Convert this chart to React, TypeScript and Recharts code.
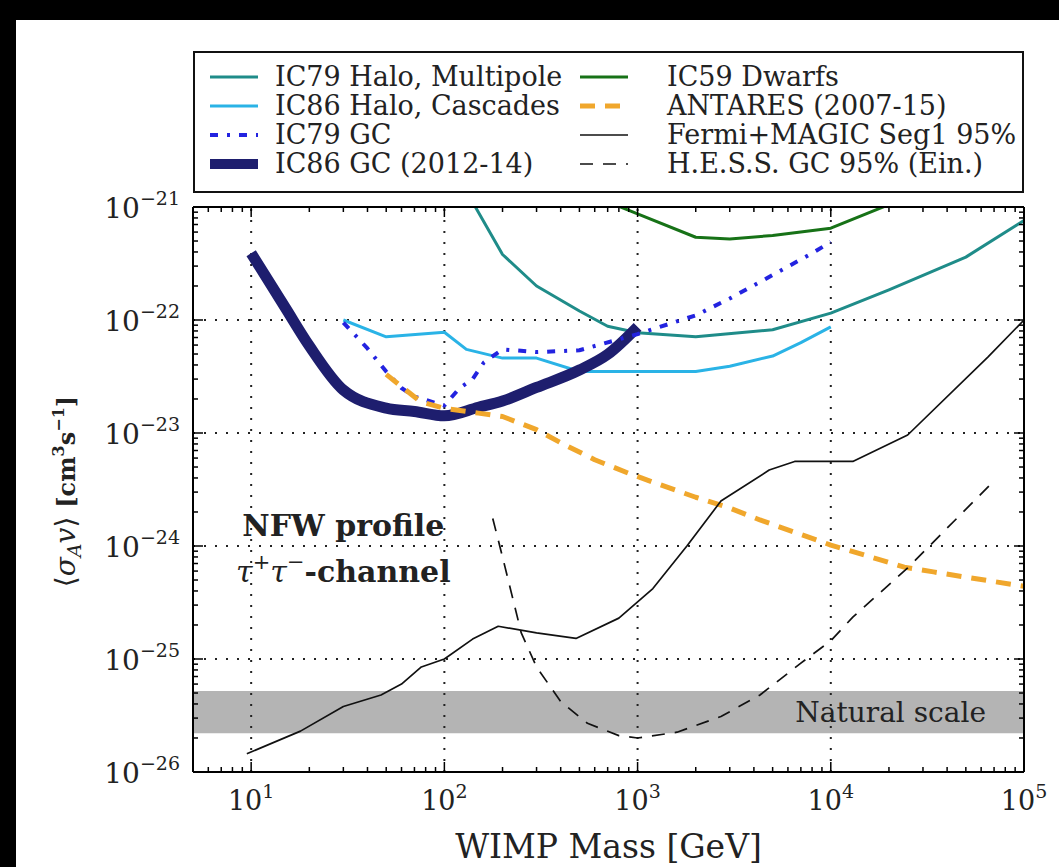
import { LineChart, Line, XAxis, YAxis, ReferenceLine, ReferenceArea, ReferenceDot } from 'recharts'

const FONT = '"DejaVu Serif", "Liberation Serif", serif'

// WIMP mass [GeV] and <sigma_A v> [cm^3 s^-1]
const ic79HaloMass = [100, 150, 200, 300, 500, 700, 1000, 2000, 5000, 10000, 20000, 50000, 100000]
const ic79HaloSigma = [3e-21, 9e-22, 3.8e-22, 2e-22, 1.2e-22, 8.8e-23, 7.7e-23, 7.1e-23, 8.2e-23, 1.15e-22, 1.85e-22, 3.6e-22, 7.6e-22]

const ic86HaloMass = [30, 50, 100, 130, 200, 300, 500, 1000, 2000, 3000, 5000, 7000, 10000]
const ic86HaloSigma = [1e-22, 7.1e-23, 7.8e-23, 5.5e-23, 4.6e-23, 4.6e-23, 3.5e-23, 3.5e-23, 3.5e-23, 3.9e-23, 4.8e-23, 6.3e-23, 8.7e-23]

const ic79GcMass = [30, 40, 50, 60, 70, 100, 120, 140, 160, 200, 300, 500, 1000, 2000, 3000, 5000, 8000, 10000]
const ic79GcSigma = [9.5e-23, 5.6e-23, 3.5e-23, 2.5e-23, 2.1e-23, 1.75e-23, 2.5e-23, 3e-23, 4.2e-23, 5.5e-23, 5.2e-23, 5.4e-23, 7.5e-23, 1.1e-22, 1.55e-22, 2.5e-22, 3.9e-22, 4.9e-22]

const ic86GcMass = [10, 15, 20, 30, 50, 70, 100, 150, 200, 300, 500, 700, 1000]
const ic86GcSigma = [3.9e-22, 1.29e-22, 5.9e-23, 2.4e-23, 1.66e-23, 1.55e-23, 1.42e-23, 1.69e-23, 1.92e-23, 2.53e-23, 3.61e-23, 4.96e-23, 8.7e-23]

const ic59DwarfMass = [500, 1000, 2000, 3000, 5000, 10000, 20000]
const ic59DwarfSigma = [1.4e-21, 8.7e-22, 5.4e-22, 5.2e-22, 5.6e-22, 6.5e-22, 1.05e-21]

const antaresMass = [50, 75, 100, 150, 200, 300, 400, 600, 900, 1300, 2000, 3000, 4300, 6700, 10000, 15000, 24000, 34000, 50000, 100000]
const antaresSigma = [3.3e-23, 1.9e-23, 1.65e-23, 1.5e-23, 1.4e-23, 1.07e-23, 8.2e-24, 5.8e-24, 4.4e-24, 3.5e-24, 2.7e-24, 2.17e-24, 1.7e-24, 1.3e-24, 1.02e-24, 8.3e-25, 6.5e-25, 5.9e-25, 5.3e-25, 4.4e-25]

const fermiMass = [9.5, 18, 30, 47, 60, 76, 100, 140, 190, 300, 480, 800, 1200, 1800, 2700, 4800, 6500, 13000, 25000, 65000, 100000]
const fermiSigma = [1.45e-26, 2.3e-26, 3.8e-26, 4.8e-26, 6e-26, 8.5e-26, 1e-25, 1.5e-25, 1.95e-25, 1.7e-25, 1.52e-25, 2.3e-25, 4.2e-25, 1e-24, 2.5e-24, 4.7e-24, 5.6e-24, 5.6e-24, 9.6e-24, 4.7e-23, 1e-22]

const hessMass = [178, 200, 250, 300, 400, 550, 800, 1000, 1600, 2700, 4300, 7000, 10000, 13000, 25000, 67000]
const hessSigma = [1.75e-24, 8e-25, 1.7e-25, 8.5e-26, 4.2e-26, 2.7e-26, 2.1e-26, 2e-26, 2.25e-26, 3.1e-26, 4.8e-26, 9.2e-26, 1.45e-25, 2.35e-25, 6.4e-25, 3.5e-24]

const naturalScale = [2.2e-26, 5.2e-26]

const X_DOMAIN = [5, 100000]
const Y_DOMAIN = [1e-26, 1e-21]
const X_MAJOR = [10, 100, 1000, 10000, 100000]
const X_MINOR = [6, 7, 8, 9, 20, 30, 40, 50, 60, 70, 80, 90, 200, 300, 400, 500, 600, 700, 800, 900,
  2000, 3000, 4000, 5000, 6000, 7000, 8000, 9000, 20000, 30000, 40000, 50000, 60000, 70000, 80000, 90000]
const Y_MAJOR = [1e-26, 1e-25, 1e-24, 1e-23, 1e-22, 1e-21]
const MINOR_STEPS = [2, 3, 4, 5, 6, 7, 8, 9]
const Y_MINOR = Y_MAJOR.slice(0, -1).flatMap((d) => MINOR_STEPS.map((k) => k * d))
const X_TICKS = [...X_MINOR, ...X_MAJOR].sort((a, b) => a - b)
const Y_TICKS = [...Y_MINOR, ...Y_MAJOR].sort((a, b) => a - b)

const pts = (m: number[], s: number[]) => m.map((mass, i) => ({ m: mass, v: s[i] }))

const series = [
  { name: 'IC79 Halo, Multipole', data: pts(ic79HaloMass, ic79HaloSigma), color: '#1f8c89', width: 3, dash: undefined, curve: 'linear' },
  { name: 'IC86 Halo, Cascades', data: pts(ic86HaloMass, ic86HaloSigma), color: '#2ab3e6', width: 3, dash: undefined, curve: 'linear' },
  { name: 'IC86 GC (2012-14)', data: pts(ic86GcMass, ic86GcSigma), color: '#1e1e6e', width: 11, dash: undefined, curve: 'monotone' },
  { name: 'IC79 GC', data: pts(ic79GcMass, ic79GcSigma), color: '#2323e0', width: 4, dash: '8 9 3 9', curve: 'linear' },
  { name: 'IC59 Dwarfs', data: pts(ic59DwarfMass, ic59DwarfSigma), color: '#177217', width: 3, dash: undefined, curve: 'linear' },
  { name: 'ANTARES (2007-15)', data: pts(antaresMass, antaresSigma), color: '#f0a72c', width: 5, dash: '15 10', curve: 'linear' },
  { name: 'Fermi+MAGIC Seg1 95%', data: pts(fermiMass, fermiSigma), color: '#111', width: 1.7, dash: undefined, curve: 'linear' },
  { name: 'H.E.S.S. GC 95% (Ein.)', data: pts(hessMass, hessSigma), color: '#111', width: 1.7, dash: '13 10', curve: 'linear' },
]

const legendLeft = ['IC79 Halo, Multipole', 'IC86 Halo, Cascades', 'IC79 GC', 'IC86 GC (2012-14)']
const legendRight = ['IC59 Dwarfs', 'ANTARES (2007-15)', 'Fermi+MAGIC Seg1 95%', 'H.E.S.S. GC 95% (Ein.)']

const isMajor = (v: number) => Math.abs(Math.log10(v) - Math.round(Math.log10(v))) < 1e-6
const expOf = (v: number) => {
  const e = Math.round(Math.log10(v))
  return e < 0 ? '\u2212' + Math.abs(e) : String(e)
}

function BottomTick(props: any) {
  const { x, y, payload } = props
  const major = isMajor(payload.value)
  return (
    <g>
      <line x1={x} x2={x} y1={y} y2={y - (major ? 10 : 5)} stroke="#000" strokeWidth={1.5} />
      {major && (
        <text x={x} y={y + 38} textAnchor="middle" fontFamily={FONT} fontSize={27} fill="#222">
          10<tspan fontSize={19} dy={-12}>{expOf(payload.value)}</tspan>
        </text>
      )}
    </g>
  )
}

function TopTick(props: any) {
  const { x, y, payload } = props
  const major = isMajor(payload.value)
  return <line x1={x} x2={x} y1={y} y2={y + (major ? 10 : 5)} stroke="#000" strokeWidth={1.5} />
}

function LeftTick(props: any) {
  const { x, y, payload } = props
  const major = isMajor(payload.value)
  return (
    <g>
      <line x1={x} x2={x + (major ? 10 : 5)} y1={y} y2={y} stroke="#000" strokeWidth={1.5} />
      {major && (
        <text x={x - 13} y={y + 11} textAnchor="end" fontFamily={FONT} fontSize={28} fill="#222">
          10<tspan fontSize={19} dy={-13}>{expOf(payload.value)}</tspan>
        </text>
      )}
    </g>
  )
}

function RightTick(props: any) {
  const { x, y, payload } = props
  const major = isMajor(payload.value)
  return <line x1={x} x2={x - (major ? 10 : 5)} y1={y} y2={y} stroke="#000" strokeWidth={1.5} />
}

function YLabel(props: any) {
  const vb = props.viewBox || { x: 0, y: 207, width: 193, height: 565 }
  const cx = vb.x + 75
  const cy = vb.y + vb.height / 2 + 2
  return (
    <text transform={`rotate(-90 ${cx} ${cy})`} x={cx} y={cy} textAnchor="middle" fontFamily={FONT} fontSize={28} fill="#222">
      <tspan>{'\u27e8'}</tspan>
      <tspan fontStyle="italic">σ</tspan>
      <tspan fontStyle="italic" fontSize={19} dy={6}>A</tspan>
      <tspan fontStyle="italic" dy={-6}>v</tspan>
      <tspan>{'\u27e9 '}</tspan>
      <tspan fontWeight="bold" fontSize={24}>[cm</tspan>
      <tspan fontWeight="bold" fontSize={16} dy={-11}>3</tspan>
      <tspan fontWeight="bold" fontSize={24} dy={11}>s</tspan>
      <tspan fontWeight="bold" fontSize={16} dy={-11}>{'\u22121'}</tspan>
      <tspan fontWeight="bold" fontSize={24} dy={11}>]</tspan>
    </text>
  )
}

function NfwNote(props: any) {
  const { cx, cy } = props
  return (
    <text x={cx} y={cy} textAnchor="middle" fontFamily={FONT} fontSize={30} fill="#222">
      <tspan fontWeight="bold">NFW profile</tspan>
      <tspan x={cx} dy={46} fontStyle="italic">τ</tspan>
      <tspan fontSize={21} dy={-13}>+</tspan>
      <tspan fontStyle="italic" dy={13}>τ</tspan>
      <tspan fontSize={21} dy={-13}>{'\u2212'}</tspan>
      <tspan fontWeight="bold" dy={13}>-channel</tspan>
    </text>
  )
}

function Swatch({ name }: { name: string }) {
  const s = series.find((d) => d.name === name)!
  return (
    <svg width={48} height={14} style={{ display: 'block' }}>
      <line x1={0} x2={48} y1={7} y2={7} stroke={s.color} strokeWidth={Math.min(s.width, 10)} strokeDasharray={s.dash} />
    </svg>
  )
}

function LegendBox() {
  const row = (name: string, i: number, sx: number, tx: number) => (
    <div key={name}>
      <div style={{ position: 'absolute', left: sx, top: 17 + i * 29 }}>
        <Swatch name={name} />
      </div>
      <div style={{ position: 'absolute', left: tx, top: 8 + i * 29, lineHeight: '32px', whiteSpace: 'nowrap' }}>{name}</div>
    </div>
  )
  return (
    <div
      style={{
        position: 'absolute', left: 193, top: 51, width: 831, height: 142, boxSizing: 'border-box',
        border: '2px solid #111', background: '#fff', fontFamily: FONT, fontSize: 27, color: '#222',
      }}
    >
      {legendLeft.map((n, i) => row(n, i, 15, 80))}
      {legendRight.map((n, i) => row(n, i, 385, 472))}
    </div>
  )
}

export default function App() {
  return (
    <div style={{ position: 'absolute', left: 0, top: 0, width: 1059, height: 867, background: '#000', overflow: 'hidden' }}>
      <div style={{ position: 'absolute', left: 16, top: 20, width: 1043, height: 847, background: '#fff' }} />
      <div style={{ position: 'absolute', left: 0, top: 0 }}>
        <LineChart width={1059} height={867} margin={{ top: 206, right: 34, bottom: 0, left: 0 }}>
          <XAxis
            dataKey="m" type="number" scale="log" domain={X_DOMAIN} allowDataOverflow ticks={X_TICKS} interval={0}
            tick={<BottomTick />} tickLine={false} tickSize={0} tickMargin={0} height={95}
            axisLine={{ stroke: '#000', strokeWidth: 2 }}
            label={{ value: 'WIMP Mass [GeV]', position: 'insideBottom', offset: 9, fontSize: 33, fontFamily: FONT, fill: '#222' }}
          />
          <XAxis
            xAxisId="top" orientation="top" dataKey="m" type="number" scale="log" domain={X_DOMAIN} allowDataOverflow
            ticks={X_TICKS} interval={0} tick={<TopTick />} tickLine={false} tickSize={0} tickMargin={0} height={1}
            axisLine={{ stroke: '#000', strokeWidth: 2 }}
          />
          <YAxis
            type="number" scale="log" domain={Y_DOMAIN} allowDataOverflow ticks={Y_TICKS} interval={0}
            tick={<LeftTick />} tickLine={false} tickSize={0} tickMargin={0} width={193}
            axisLine={{ stroke: '#000', strokeWidth: 2 }} label={<YLabel />}
          />
          <YAxis
            yAxisId="right" orientation="right" type="number" scale="log" domain={Y_DOMAIN} allowDataOverflow
            ticks={Y_TICKS} interval={0} tick={<RightTick />} tickLine={false} tickSize={0} tickMargin={0} width={1}
            axisLine={{ stroke: '#000', strokeWidth: 2 }}
          />
          <ReferenceArea
            y1={naturalScale[0]} y2={naturalScale[1]} fill="#b4b4b4" fillOpacity={1} stroke="none"
            label={{ value: 'Natural scale', position: 'insideRight', offset: 38, fontSize: 28, fontFamily: FONT, fill: '#222' }}
          />
          {X_MAJOR.slice(0, -1).map((v) => (
            <ReferenceLine key={'gx' + v} x={v} stroke="#222" strokeWidth={2} strokeDasharray="2 9" />
          ))}
          {Y_MAJOR.slice(1, -1).map((v) => (
            <ReferenceLine key={'gy' + v} y={v} stroke="#222" strokeWidth={2} strokeDasharray="2 9" />
          ))}
          {series.map((s) => (
            <Line
              key={s.name} data={s.data} dataKey="v" type={s.curve as any} stroke={s.color} strokeWidth={s.width}
              strokeDasharray={s.dash} dot={false} activeDot={false} isAnimationActive={false} strokeLinejoin="round"
            />
          ))}
          <ReferenceDot x={30} y={1.22e-24} r={0} shape={<NfwNote />} />
        </LineChart>
      </div>
      <LegendBox />
    </div>
  )
}
